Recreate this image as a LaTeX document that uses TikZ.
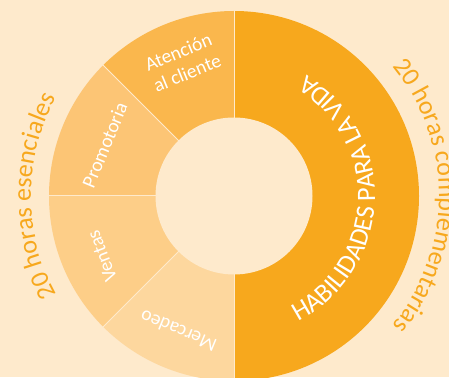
\documentclass[tikz,border=0pt]{standalone}
\usepackage{fontspec}
\setmainfont{Carlito}
\usetikzlibrary{decorations.text,calc}
\definecolor{bgc}{HTML}{FEEACC}
\definecolor{darkor}{HTML}{F7A81D}
\definecolor{segA}{HTML}{FAB74D}
\definecolor{segB}{HTML}{FCC575}
\definecolor{segC}{HTML}{FDCE88}
\definecolor{segD}{HTML}{FDD79E}
\begin{document}
\begin{tikzpicture}[x=1pt,y=1pt,
  sep/.style={draw=bgc, line width=1pt},
  seglabel/.style={text=white, font=\fontsize{19.5}{23}\selectfont, align=center, inner sep=0pt},
  arctext/.style={decorate, decoration={text along path, text align=center, text color=#1}},
  ]
\useasboundingbox (0,0) rectangle (449,377);
\clip (0,0) rectangle (449,377);
\fill[bgc] (0,0) rectangle (449,377);
\coordinate (C) at (234,181);
% right half
\fill[darkor] (C) -- +(-90:185pt) arc[start angle=-90,end angle=90,radius=185pt] -- cycle;
% left quarters
\fill[segA] (C) -- +(90:185pt) arc[start angle=90,end angle=135,radius=185pt] -- cycle;
\fill[segB] (C) -- +(135:185pt) arc[start angle=135,end angle=180,radius=185pt] -- cycle;
\fill[segC] (C) -- +(180:185pt) arc[start angle=180,end angle=225,radius=185pt] -- cycle;
\fill[segD] (C) -- +(225:185pt) arc[start angle=225,end angle=270,radius=185pt] -- cycle;
% separators
\foreach \a in {90,135,180,225,270}
  \draw[sep] (C) +(\a:70pt) -- +(\a:190pt);
% inner hole
\fill[bgc] (C) circle[radius=78.5pt];
% segment labels
\node[seglabel, rotate=22.5] (atencion) at ($(C)+(111:143pt)$) {Atención\\al cliente};
\node[seglabel, rotate=67.5] (promotoria) at ($(C)+(158.5:139pt)$) {Promotoria};
\node[seglabel, rotate=111] (ventas) at ($(C)+(204.5:145pt)$) {Ventas};
\node[seglabel, rotate=157.5] (mercadeo) at ($(C)+(247.6:146pt)$) {Mercadeo};
% curved labels
\path[arctext=white, decoration={text={|\fontsize{26.5}{30}\selectfont|HABILIDADES PARA LA VIDA}}]
  (C) ++(-82:141pt) arc[start angle=-82,end angle=78,radius=141pt];
\path[arctext=darkor, decoration={text={|\fontsize{26}{30}\selectfont|20 horas esenciales}}]
  (C) ++(235:203pt) arc[start angle=235,end angle=125,radius=203pt];
\path[arctext=darkor, decoration={text={|\fontsize{26}{30}\selectfont|20 horas complementarias}}]
  (C) ++(80:205pt) arc[start angle=80,end angle=-80,radius=205pt];
\end{tikzpicture}
\end{document}
